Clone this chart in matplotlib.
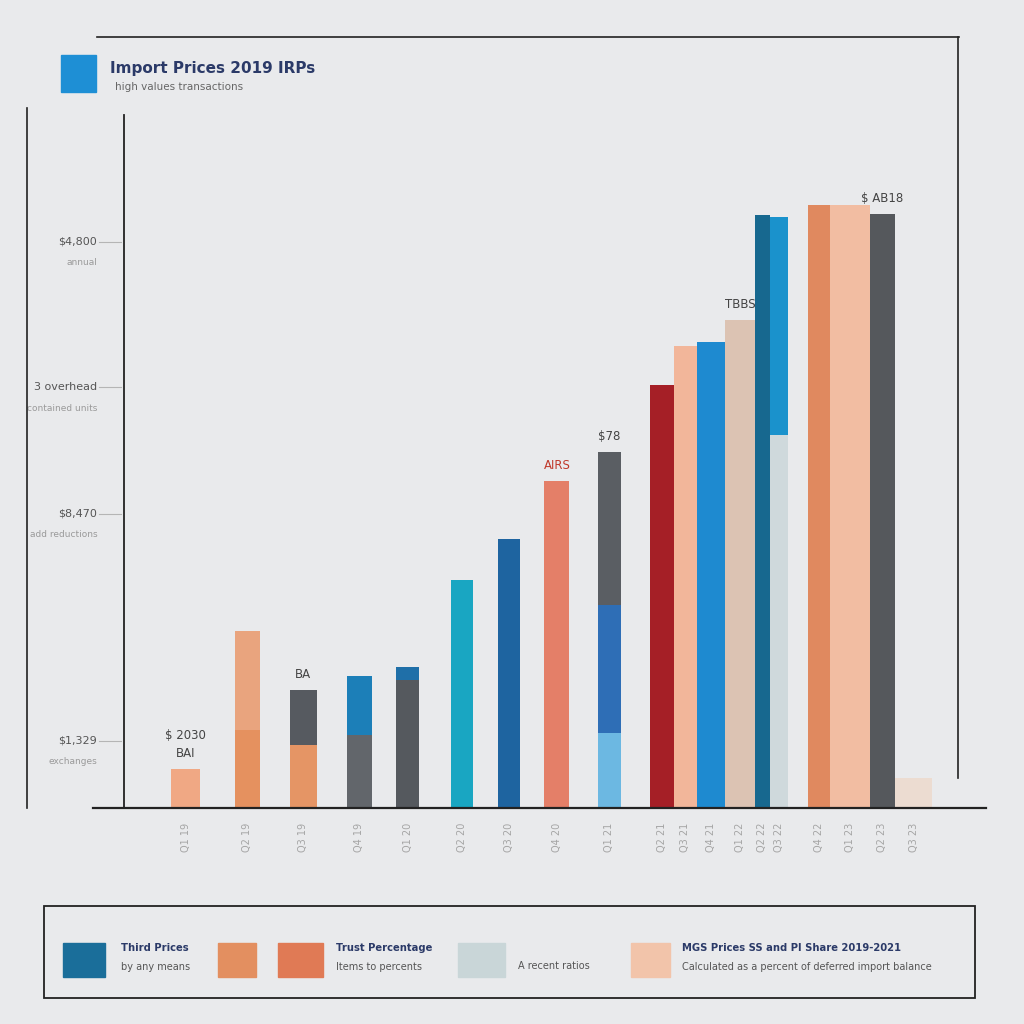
import matplotlib.pyplot as plt
from matplotlib.patches import Rectangle
from matplotlib.lines import Line2D

# data (in axis units)
categories = ['Q1 19', 'Q2 19', 'Q3 19', 'Q4 19', 'Q1 20', 'Q2 20', 'Q3 20', 'Q4 20', 'Q1 21',
              'Q2 21', 'Q3 21', 'Q4 21', 'Q1 22', 'Q2 22', 'Q3 22', 'Q4 22', 'Q1 23', 'Q2 23', 'Q3 23']
totals = [390, 1790, 1190, 1330, 1420, 2300, 2720, 3300, 3600,
          4270, 4670, 4710, 4930, 5990, 5970, 6090, 6090, 6000, 300]
lower = [0, 790, 640, 740, 1290, 0, 0, 0, 2050,
         0, 0, 0, 0, 0, 3770, 0, 0, 0, 0]
base_part = [0, 0, 0, 0, 0, 0, 0, 0, 760,
             0, 0, 0, 0, 0, 0, 0, 0, 0, 0]
top_colors = ['#f0a884', '#e9a47e', '#565a60', '#1c7fb8', '#1f6fa8', '#19a6c2', '#1e64a0', '#e47f68', '#5a5e63',
              '#a51f26', '#f2b69a', '#1e8ad0', '#dcc3b3', '#17688f', '#1a92cc', '#e0895f', '#f2bda2', '#55585c', '#ecdcd1']
low_colors = [None, '#e5915f', '#e59565', '#62666b', '#55595e', None, None, None, '#2e6eb6',
              None, None, None, None, None, '#cfd9dc', None, None, None, None]
base_colors = [None] * 8 + ['#6cb8e2'] + [None] * 10

value_labels = {0: '$ 2030\nBAI', 2: 'BA', 7: 'AIRS', 8: '$78', 12: 'TBBS', 17: '$ AB18'}
label_colors = {7: '#c0392b'}

ytick_vals = [680, 2970, 4250, 5720]
ytick_main = ['$1,329', '$8,470', '3 overhead', '$4,800']
ytick_sub = ['exchanges', 'add reductions', 'contained units', 'annual']

legend_names = ['Third Prices', '', 'Trust Percentage', '', 'MGS Prices SS and PI Share 2019-2021']
legend_subs = ['by any means', '', 'Items to percents', 'A recent ratios', 'Calculated as a percent of deferred import balance']
legend_colors = ['#1a6e9a', '#e38f60', '#e07a55', '#c9d6d8', '#f2c4aa']

# positions / widths (layout only)
x_pos = [7.4, 14.8, 21.5, 28.2, 34.0, 40.5, 46.2, 51.9, 58.2,
         64.5, 67.3, 70.4, 73.9, 76.5, 78.5, 83.3, 87.1, 90.9, 94.7]
widths = [3.5, 3.1, 3.2, 3.0, 2.8, 2.6, 2.6, 3.0, 2.8,
          2.9, 2.8, 3.4, 3.6, 1.8, 2.2, 2.6, 4.8, 3.0, 4.4]

bg = '#e9eaec'
fig = plt.figure(figsize=(10.24, 10.24), dpi=100, facecolor=bg)

def fx(px):
    return px / 1024

def fy(py):
    return 1 - py / 1024

ax = fig.add_axes([fx(124), fy(808), fx(958) - fx(124), fy(115) - fy(808)])
ax.set_facecolor(bg)
ax.patch.set_alpha(0)
ax.set_xlim(0, 100)
ax.set_ylim(0, 7000)

for i in range(len(totals)):
    ax.bar(x_pos[i], totals[i], width=widths[i], color=top_colors[i], zorder=2)
    if lower[i]:
        ax.bar(x_pos[i], lower[i], width=widths[i], color=low_colors[i], zorder=3)
    if base_part[i]:
        ax.bar(x_pos[i], base_part[i], width=widths[i], color=base_colors[i], zorder=4)
    if i in value_labels:
        ax.text(x_pos[i], totals[i] + 90, value_labels[i], ha='center', va='bottom',
                fontsize=8.5, color=label_colors.get(i, '#444444'), linespacing=1.5)
    ax.text(x_pos[i], -150, categories[i], rotation=90, ha='center', va='top',
            fontsize=7, color='#a5a5a5')

for s in ['top', 'right', 'bottom']:
    ax.spines[s].set_visible(False)
ax.spines['left'].set_color('#222222')
ax.spines['left'].set_linewidth(1.3)
ax.set_xticks([])
ax.set_yticks([])

for v, m, s in zip(ytick_vals, ytick_main, ytick_sub):
    ax.plot([-3.0, -0.3], [v, v], color='#b5b5b5', lw=0.8, clip_on=False)
    ax.text(-3.2, v, m, ha='right', va='center', fontsize=8, color='#555555')
    ax.text(-3.2, v - 210, s, ha='right', va='center', fontsize=6.5, color='#9a9a9a')

# frame lines
fig.add_artist(Line2D([fx(93), fx(986)], [fy(808), fy(808)], color='#222222', lw=1.6))
fig.add_artist(Line2D([fx(97), fx(959)], [fy(37), fy(37)], color='#222222', lw=1.2))
fig.add_artist(Line2D([fx(958), fx(958)], [fy(37), fy(778)], color='#222222', lw=1.2))
fig.add_artist(Line2D([fx(27), fx(27)], [fy(108), fy(808)], color='#222222', lw=1.2))

# title
fig.add_artist(Rectangle((fx(61), fy(92)), fx(35), fy(55) - fy(92), color='#1e8fd5'))
fig.text(fx(110), fy(68), 'Import Prices 2019 IRPs', fontsize=11, fontweight='bold',
         color='#2b3a68', va='center')
fig.text(fx(115), fy(87), 'high values transactions', fontsize=7.5, color='#666666', va='center')

# legend box
fig.add_artist(Rectangle((fx(44), fy(998)), fx(975) - fx(44), fy(906) - fy(998),
                         fill=False, ec='#222222', lw=1.3))
sq_x = [63, 218, 278, 458, 631]
sq_w = [42, 38, 45, 47, 39]
txt_x = [121, None, 336, 518, 682]
for i in range(len(legend_colors)):
    fig.add_artist(Rectangle((fx(sq_x[i]), fy(977)), fx(sq_w[i]), fy(943) - fy(977),
                             color=legend_colors[i]))
    if txt_x[i] is None:
        continue
    if legend_names[i]:
        fig.text(fx(txt_x[i]), fy(948), legend_names[i], fontsize=7.2, fontweight='bold',
                 color='#2b3a68', va='center')
        fig.text(fx(txt_x[i]), fy(967), legend_subs[i], fontsize=7, color='#555555', va='center')
    else:
        fig.text(fx(txt_x[i]), fy(966), legend_subs[i], fontsize=7, color='#555555', va='center')

fig.savefig('out.png', dpi=100, facecolor=bg)
